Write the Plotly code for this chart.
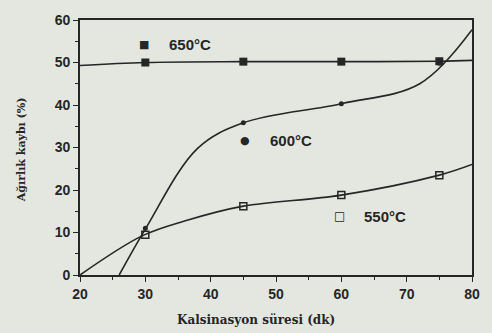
import plotly.graph_objects as go

# Data
time_points = [30, 45, 60, 75]
loss_650 = [50.0, 50.2, 50.2, 50.3]
loss_600 = [11.0, 35.8, 40.3, 49.8]
loss_550 = [9.5, 16.2, 18.8, 23.5]

# Smooth fitted curves
curve650_x = [20, 30, 45, 60, 75, 80]
curve650_y = [49.3, 50.0, 50.2, 50.2, 50.3, 50.5]
curve600_x = [26, 30, 38, 45, 60, 72, 80]
curve600_y = [0, 10.8, 29.8, 35.8, 40.3, 45.0, 57.7]
curve550_x = [20, 29.5, 36, 45, 60, 75, 80]
curve550_y = [0, 9.2, 12.7, 16.2, 18.8, 23.5, 26.0]

x_ticks = [20, 30, 40, 50, 60, 70, 80]
y_ticks = [0, 10, 20, 30, 40, 50, 60]

labels = ["650°C", "600°C", "550°C"]

ink = "#262626"
bg = "#e4e7e0"

fig = go.Figure()
line = dict(color=ink, width=1.6, shape="spline", smoothing=1.0)
for cx, cy in [(curve650_x, curve650_y), (curve600_x, curve600_y), (curve550_x, curve550_y)]:
    fig.add_trace(go.Scatter(x=cx, y=cy, mode="lines", line=line, hoverinfo="skip"))

fig.add_trace(go.Scatter(x=time_points, y=loss_650, mode="markers",
                         marker=dict(symbol="square", size=8, color=ink)))
fig.add_trace(go.Scatter(x=time_points, y=loss_600, mode="markers",
                         marker=dict(symbol="circle", size=5, color=ink)))
fig.add_trace(go.Scatter(x=time_points, y=loss_550, mode="markers",
                         marker=dict(symbol="square-open", size=7, color=ink,
                                     line=dict(width=1.5, color=ink))))

# In-plot legend labels
legend_pos = [(29.8, 54.2, "■"), (45.2, 31.6, "●"), (59.7, 13.8, "□")]
annotations = []
for (lx, ly, sym), lab in zip(legend_pos, labels):
    annotations.append(dict(x=lx, y=ly, xref="x", yref="y", text=sym, showarrow=False,
                            font=dict(size=11 if sym != "□" else 12, color=ink,
                                      family="DejaVu Sans")))
    annotations.append(dict(x=lx + 3.5, y=ly, xref="x", yref="y", text=f"<b>{lab}</b>",
                            showarrow=False, xanchor="left",
                            font=dict(size=15, color=ink, family="Liberation Sans")))

annotations.append(dict(x=0.45, y=-0.175, xref="paper", yref="paper",
                        text="<b>Kalsinasyon süresi (dk)</b>", showarrow=False,
                        xanchor="center", yanchor="middle",
                        font=dict(size=12, color=ink, family="DejaVu Serif")))
annotations.append(dict(x=-0.15, y=0.49, xref="paper", yref="paper",
                        text="<b>Ağırlık kaybı (%)</b>", showarrow=False, textangle=-90,
                        xanchor="center", yanchor="middle",
                        font=dict(size=11, color=ink, family="DejaVu Serif")))

fig.update_layout(
    width=492, height=333,
    margin=dict(l=80, r=12, t=15, b=58),
    paper_bgcolor=bg, plot_bgcolor=bg,
    showlegend=False,
    annotations=annotations,
    font=dict(family="Liberation Sans", color=ink),
)
axis_common = dict(showgrid=False, zeroline=False, showline=True, linecolor=ink,
                   linewidth=1.6, mirror=True, ticks="outside", ticklen=5,
                   tickwidth=1.4, tickcolor=ink,
                   tickfont=dict(size=14, color=ink, family="Liberation Sans"))
fig.update_xaxes(range=[20, 80], tickvals=x_ticks, ticktext=[f"<b>{v}</b>" for v in x_ticks],
                 minor=dict(dtick=5, tick0=20, ticks="outside", ticklen=3, tickcolor=ink),
                 **axis_common)
fig.update_yaxes(range=[0, 60], tickvals=y_ticks, ticktext=[f"<b>{v}</b>" for v in y_ticks],
                 minor=dict(dtick=5, tick0=0, ticks="outside", ticklen=3, tickcolor=ink),
                 **axis_common)

fig.write_html("out.html")
